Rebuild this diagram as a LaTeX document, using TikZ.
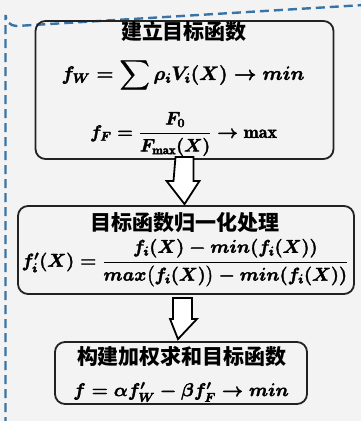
\RequirePackage{fix-cm}
\documentclass[tikz,border=0pt]{standalone}
\usepackage{amsmath}
\usepackage{fontspec}
\newfontfamily\cjk{Noto Sans CJK SC}
\newcommand\heavymath[1]{\special{pdf:literal direct 2 Tr 0.35 w}#1\special{pdf:literal direct 0 Tr}}
\definecolor{bgc}{HTML}{F3F3F3}
\definecolor{dashc}{HTML}{3A74A6}
\definecolor{edgec}{HTML}{222222}
\tikzset{
  boxnode/.style={draw=edgec, line width=1.8pt, rounded corners=10pt, inner sep=0pt},
  ttl/.style={inner sep=0pt, font=\cjk\bfseries\fontsize{21}{24}\selectfont},
  fm/.style={inner sep=0pt, font=\boldmath\fontsize{18.5}{21}\selectfont}
  ,hollow/.style={draw=black, fill=white, line width=1.8pt, line join=miter}
}
\begin{document}
\begin{tikzpicture}[x=1pt,y=-1pt]
\fill[bgc] (0,0) rectangle (361,421);
\useasboundingbox (0,0) rectangle (361,421);
\begin{scope}
\clip (0,0) rectangle (361,421);
\draw[dashc, line width=2.4pt, dash pattern=on 9pt off 5pt] (5.5,440) -- (5.5,15) arc[start angle=180, end angle=90, radius=11] -- (380,4);
\end{scope}
% boxes
\node[boxnode, minimum width=298, minimum height=138] (b1) at (184.5,90) {};
\node[boxnode, minimum width=336, minimum height=88] (b2) at (186,250) {};
\node[boxnode, minimum width=252, minimum height=62] (b3) at (181,373) {};
% texts
\node[ttl] (t1) at (184,31) {建立目标函数};
\node[fm, font=\boldmath\fontsize{19.5}{22}\selectfont] (fw) at (183,75) {\heavymath{$f_W=\displaystyle\sum\rho_iV_i(X)\to min$}};
\node[fm, font=\boldmath\fontsize{18}{21}\selectfont] (ff) at (183.5,134) {\heavymath{$f_F=\dfrac{F_0}{F_{\max}(X)}\to\max$}};
\node[ttl] (t2) at (185,223) {目标函数归一化处理};
\node[fm] (fn) at (185,263) {\heavymath{$f'_i(X)=\dfrac{f_i(X)-min(f_i(X))}{max\big(f_i(X)\big)-min(f_i(X))}$}};
\node[ttl] (t3) at (182,357) {构建加权求和目标函数};
\node[fm] (fs) at (181,392) {\heavymath{$f=\alpha f'_W-\beta f'_F\to min$}};
% hollow arrows
\draw[hollow] ([xshift=-9pt,yshift=3pt]b1.south) -- ([xshift=9pt,yshift=3pt]b1.south) -- ([xshift=9pt,yshift=-21pt]b1.south) -- ([xshift=15pt,yshift=-21pt]b1.south) -- ([xshift=-1.5pt,yshift=1pt]b2.north) -- ([xshift=-18pt,yshift=-21pt]b1.south) -- ([xshift=-11pt,yshift=-21pt]b1.south) -- cycle;
\draw[hollow] ([xshift=-13pt,yshift=-3pt]b2.south) -- ([xshift=6pt,yshift=-3pt]b2.south) -- ([xshift=6pt,yshift=-24pt]b2.south) -- ([xshift=11pt,yshift=-24pt]b2.south) -- ([xshift=-3pt,yshift=2pt]b3.north) -- ([xshift=-16pt,yshift=-24pt]b2.south) -- ([xshift=-13pt,yshift=-24pt]b2.south) -- cycle;
\end{tikzpicture}
\end{document}
